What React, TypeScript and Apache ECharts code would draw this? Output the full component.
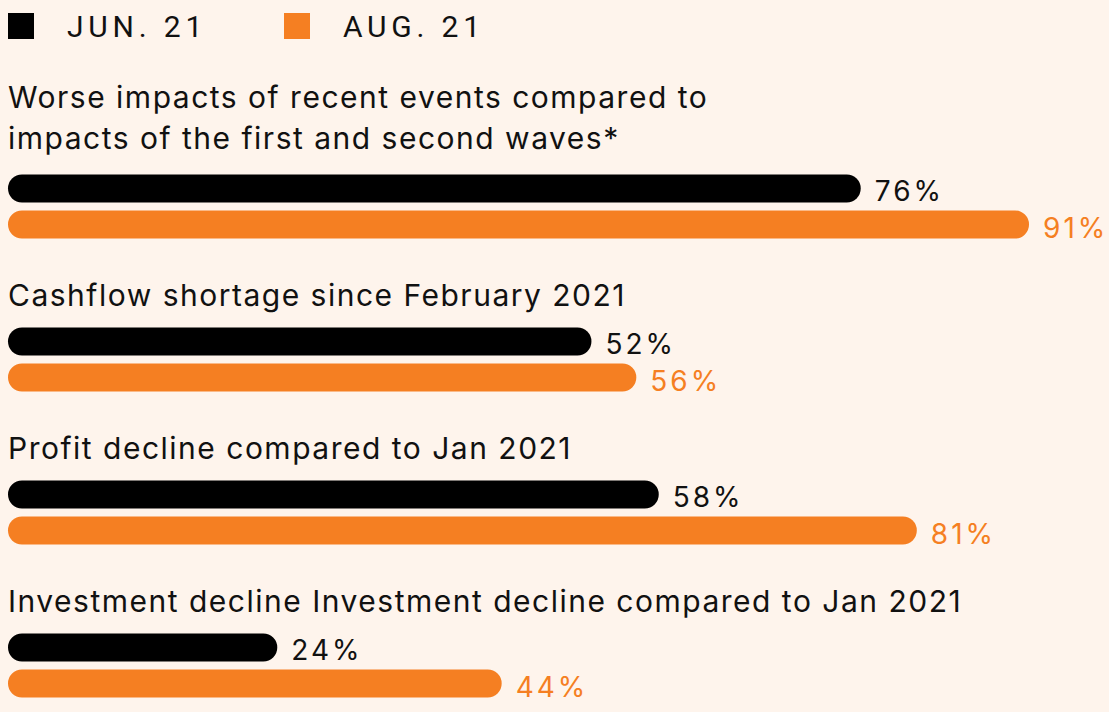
import React, { useEffect, useRef } from "react";
import * as echarts from "echarts";

const categories = [
  "Worse impacts of recent events compared to\nimpacts of the first and second waves*",
  "Cashflow shortage since February 2021",
  "Profit decline compared to Jan 2021",
  "Investment decline Investment decline compared to Jan 2021",
];
const seriesNames = ["JUN. 21", "AUG. 21"];
const jun21 = [76, 52, 58, 24];
const aug21 = [91, 56, 81, 44];

const BG = "#fef4ec";
const ORANGE = "#f57f22";
const INK = "#111111";

export default function App() {
  const ref = useRef<HTMLDivElement>(null);

  useEffect(() => {
    if (!ref.current) return;
    const chart = echarts.init(ref.current, null, { renderer: "svg" });
    const legendBase = {
      top: 11,
      padding: 0,
      icon: "rect",
      itemWidth: 26,
      itemHeight: 26,
      selectedMode: false,
      textStyle: {
        fontFamily: "Roboto, LegendSpaced",
        fontSize: 30,
        color: INK,
        padding: [0, 0, 0, 28],
      },
    };
    const valueLabel = (color: string) => ({
      show: true,
      position: "right",
      distance: 14,
      offset: [0, 3],
      formatter: "{c}%",
      color,
      fontFamily: "Inter, ValueSpaced",
      fontSize: 28,
    });
    const catLabelStyle = {
      fontFamily: "Inter, LabelSpaced",
      fontSize: 30,
      lineHeight: 41,
      color: INK,
      verticalAlign: "bottom",
      align: "left",
      padding: [0, 0, 44, 0],
    };
    chart.setOption({
      animation: false,
      backgroundColor: BG,
      legend: [
        { ...legendBase, left: 8, data: [seriesNames[0]] },
        { ...legendBase, left: 284, data: [seriesNames[1]] },
      ],
      grid: { left: 8, top: 130, width: 1122, height: 612, containLabel: false },
      xAxis: {
        type: "value",
        min: 0,
        max: 100,
        show: false,
      },
      yAxis: {
        type: "category",
        inverse: true,
        data: categories.map((c, i) =>
          i === 0
            ? { value: c, textStyle: { ...catLabelStyle, padding: [0, 0, 48, 0] } }
            : c
        ),
        axisLine: { show: false },
        axisTick: { show: false },
        splitLine: { show: false },
        axisLabel: {
          inside: true,
          margin: 0,
          interval: 0,
          ...catLabelStyle,
        },
      },
      series: [
        {
          name: seriesNames[0],
          type: "bar",
          data: jun21,
          barWidth: 28,
          barGap: "28.6%",
          itemStyle: { color: "#000000", borderRadius: 14 },
          label: valueLabel(INK),
        },
        {
          name: seriesNames[1],
          type: "bar",
          data: aug21,
          barWidth: 28,
          itemStyle: { color: ORANGE, borderRadius: 14 },
          label: valueLabel(ORANGE),
        },
      ],
    });
    return () => chart.dispose();
  }, []);

  return (
    <>
      <style>{`
        text[style*="LegendSpaced"] { letter-spacing: 4.8px; }
        text[style*="ValueSpaced"] { letter-spacing: 3px; }
        text[style*="LabelSpaced"] { letter-spacing: 1.5px; }
      `}</style>
      <div
        style={{
          position: "absolute",
          left: 0,
          top: 0,
          width: 1109,
          height: 712,
          overflow: "hidden",
          background: BG,
        }}
      >
        <div ref={ref} style={{ width: 1200, height: 780 }} />
      </div>
    </>
  );
}
